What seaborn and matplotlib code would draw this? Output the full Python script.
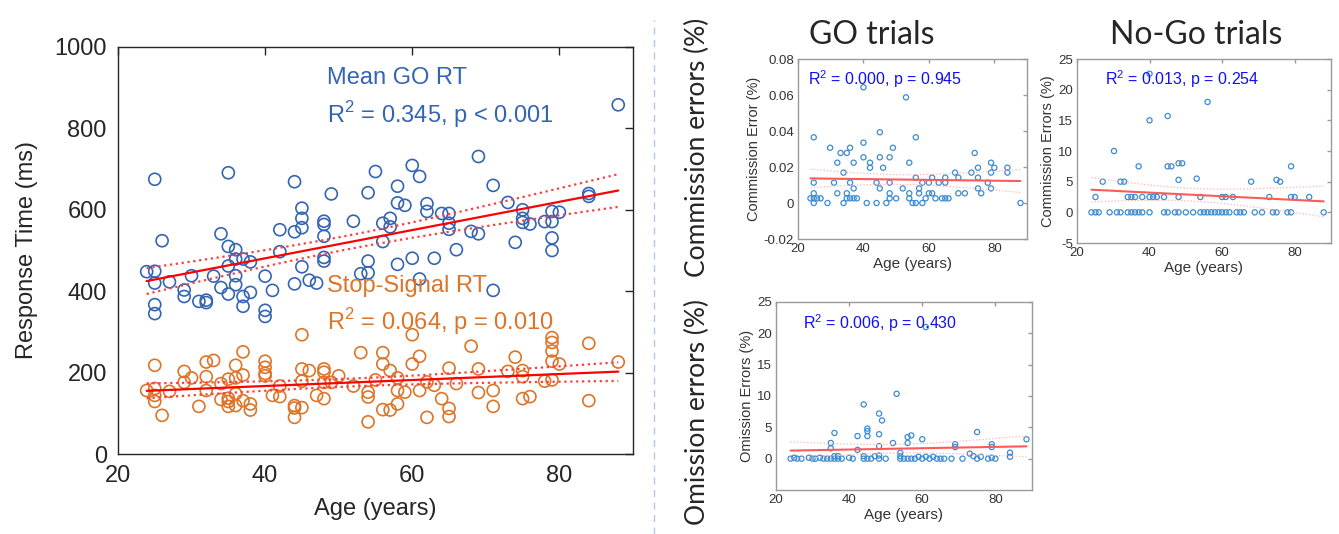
import numpy as np
import pandas as pd
import matplotlib
matplotlib.use("Agg")
import matplotlib.pyplot as plt
import seaborn as sns

# ---- main panel: response time vs age ----
go_age = [23.9, 25, 25, 26, 25, 25, 25, 27, 29, 29, 30, 31, 32, 32, 33, 34, 34, 35, 35, 35,
          35, 36, 36, 36, 36, 37, 37, 37, 38, 38, 40, 40, 40, 41, 42, 42, 44, 44, 44, 45,
          45, 45, 45, 46, 47, 48, 48, 48, 48, 48, 49, 52, 53, 54, 54, 54, 55, 56, 56, 57,
          57, 58, 58, 58, 59, 60, 60, 61, 61, 62, 62, 63, 64, 65, 65, 65, 66, 68, 69, 69,
          71, 71, 73, 74, 75, 75, 75, 76, 78, 79, 79, 79, 79, 80, 84, 84, 88]
go_rt = [448, 449, 675, 524, 420, 367, 345, 423, 403, 387, 438, 375, 378, 372, 437, 541, 409, 691, 510, 462,
         393, 502, 479, 438, 416, 479, 387, 363, 472, 397, 437, 353, 338, 402, 551, 497, 669, 546, 418, 604,
         579, 556, 460, 427, 420, 572, 564, 535, 483, 474, 639, 572, 443, 642, 474, 445, 694, 567, 522, 579,
         558, 658, 617, 466, 611, 709, 481, 682, 430, 615, 596, 481, 591, 591, 567, 552, 502, 547, 731, 541,
         660, 402, 618, 520, 600, 579, 569, 565, 571, 596, 571, 531, 500, 594, 640, 633, 858]

ss_age = [23.9, 25, 25, 25, 25, 26, 27, 29, 29, 30, 31, 32, 32, 32, 33, 34, 34, 35, 35, 35,
          35, 36, 36, 36, 36, 37, 37, 37, 38, 38, 40, 40, 40, 40, 41, 42, 42, 44, 44, 44,
          45, 45, 45, 45, 46, 47, 48, 48, 48, 48, 49, 50, 52, 53, 54, 54, 54, 55, 56, 56,
          56, 57, 57, 58, 58, 58, 59, 60, 60, 61, 61, 62, 62, 63, 64, 65, 65, 65, 66, 68,
          69, 69, 71, 71, 73, 74, 75, 75, 75, 76, 78, 79, 79, 79, 79, 79, 80, 84, 84, 88]
ss_rt = [156, 218, 161, 144, 129, 95, 154, 203, 176, 187, 117, 226, 190, 156, 230, 173, 134, 184, 137, 129,
         117, 218, 187, 148, 119, 251, 194, 131, 123, 108, 228, 213, 198, 192, 144, 167, 141, 119, 113, 90,
         293, 209, 179, 114, 205, 144, 209, 201, 176, 136, 176, 192, 167, 249, 152, 140, 79, 182, 249, 221,
         109, 205, 108, 187, 156, 123, 152, 293, 221, 240, 156, 177, 90, 169, 136, 211, 112, 92, 173, 265,
         209, 151, 156, 117, 203, 238, 205, 190, 136, 141, 179, 286, 274, 253, 228, 182, 221, 272, 131, 226]

# ---- GO trials: commission error ----
gc_age = [23.8, 24.8, 24.8, 24.8, 24.8, 24.8, 25.8, 26.9, 29, 29.8, 31, 32, 32, 33, 33.9, 33.9, 34.9, 34.9, 34.9, 35.9,
          35.9, 35.9, 37, 37, 37, 38, 40, 40, 40, 41, 42, 42, 44, 44, 45, 45, 45, 46, 47, 48,
          48, 48, 48, 49, 50, 52, 53, 54, 54, 54, 55, 56, 56, 56, 57, 57, 58, 58, 59, 60,
          60, 61, 61, 62, 63, 64, 65, 65, 65, 66, 68, 69, 69, 71, 73, 74, 75, 75, 75, 76,
          78, 79, 79, 79, 80, 84, 84, 88]
gc_err = [0.0026, 0.0054, 0.0113, 0.0365, 0.0, 0.0026, 0.0026, 0.0026, 0.0, 0.0307, 0.0113, 0.0224, 0.0054, 0.0278, 0.0169, 0.0, 0.0278, 0.0054, 0.0026, 0.0307,
          0.0113, 0.0026, 0.0224, 0.0081, 0.0026, 0.0026, 0.0643, 0.0335, 0.0254, 0.0, 0.0224, 0.0196, 0.0113, 0.0, 0.0393, 0.0254, 0.0081, 0.0196, 0.0, 0.0254,
          0.0113, 0.0054, 0.0026, 0.0307, 0.0026, 0.0081, 0.0587, 0.0224, 0.0054, 0.0026, 0.0, 0.0, 0.0365, 0.0141, 0.0081, 0.0054, 0.0113, 0.0, 0.0026, 0.0113,
          0.0054, 0.0141, 0.0054, 0.0026, 0.0113, 0.0026, 0.0141, 0.0113, 0.0026, 0.0026, 0.0169, 0.0141, 0.0054, 0.0054, 0.0169, 0.0278, 0.0196, 0.0141, 0.0081, 0.0054,
          0.0113, 0.0224, 0.0169, 0.0081, 0.0196, 0.0196, 0.0169, 0.0]

# ---- No-Go trials: commission errors ----
nc_age = [24, 25.1, 25.1, 26, 27.1, 29, 30.2, 31, 32, 32, 33, 34, 34, 35, 35, 36, 36, 37, 37, 38,
          38, 40, 40, 40, 40, 41, 42, 44, 44, 45, 45, 45, 46, 47, 48, 48, 48, 48, 49, 50,
          52, 53, 54, 54, 55, 56, 56, 57, 58, 59, 60, 60, 61, 61, 62, 63, 64, 65, 66, 68,
          69, 71, 73, 74, 75, 75, 76, 78, 79, 79, 79, 80, 84, 88]
nc_err = [0, 2.5, 0, 0, 5, 0, 10, 0, 5, 0, 5, 2.5, 0, 2.5, 0, 2.5, 0, 7.5, 0, 2.5,
          0, 15, 22.6, 2.5, 0, 2.5, 2.5, 2.5, 0, 15.7, 7.5, 0, 7.5, 0, 8, 5.3, 2.5, 0, 8, 0,
          0, 5.5, 2.5, 0, 0, 18, 0, 0, 0, 0, 2.5, 0, 2.5, 0, 0, 2.5, 0, 0, 0, 5,
          0, 0, 2.5, 0, 5.3, 0, 5, 0, 7.5, 2.5, 0, 2.5, 2.5, 0]

# ---- omission errors ----
om_age = [24, 25, 25.8, 27, 29, 30, 30.8, 32, 33, 34, 35, 35, 35, 36, 36, 36, 37, 37, 38, 40,
          41, 42.3, 42.3, 44, 44, 44, 45, 45, 45, 45, 46, 47, 48.2, 48.2, 48.2, 48.2, 48.2, 49, 50, 52,
          53, 54, 54, 54, 55, 56, 56, 56, 57, 57, 58, 59, 60, 60, 61, 61, 62, 63, 64, 65,
          66, 68, 69, 69, 71, 73, 74, 75, 75, 76, 78, 79, 79, 79, 80, 84, 84, 88.5]
om_err = [0, 0.15, 0, 0, 0.15, 0, 0, 0.15, 0, 0, 2.5, 1.65, 0, 4.1, 0.4, 0, 0.4, 0, 0, 0.15,
          0, 3.6, 1.4, 8.65, 0.4, 0, 4.8, 4.4, 3.6, 0, 0, 0.4, 7.2, 3.9, 2.0, 0.5, 0, 6.1, 0, 2.5,
          10.35, 0.95, 0.4, 0, 0, 3.45, 2.5, 0, 3.7, 0, 0, 0.3, 3.1, 0, 21, 0.3, 0, 0.3, 0, 0,
          0, 0, 2.3, 1.85, 0, 0.8, 0.4, 4.25, 0, 0.3, 0, 2.3, 1.85, 0.15, 0, 0.95, 0.3, 3.1]

blue = "#3465B4"
orange = "#DE7428"
sub_blue = "#3D8CD2"

sns.set_style("white")
plt.rcParams['font.family'] = ['Liberation Sans', 'DejaVu Sans']
plt.rcParams['mathtext.fontset'] = 'custom'
plt.rcParams['mathtext.rm'] = 'Liberation Sans'
plt.rcParams['axes.unicode_minus'] = False


def fit_lines(x, y, n_grid=100):
    x = np.asarray(x, float)
    y = np.asarray(y, float)
    b, a = np.polyfit(x, y, 1)
    xs = np.linspace(x.min(), x.max(), n_grid)
    yhat = a + b * xs
    resid = y - (a + b * x)
    s = np.sqrt(np.sum(resid ** 2) / (len(x) - 2))
    sxx = np.sum((x - x.mean()) ** 2)
    half = 1.98 * s * np.sqrt(1 / len(x) + (xs - x.mean()) ** 2 / sxx)
    return pd.DataFrame({'x': xs, 'fit': yhat, 'lo': yhat - half, 'hi': yhat + half})


def box_axes(ax, spine_color, tick_len):
    for sp in ax.spines.values():
        sp.set_visible(True)
        sp.set_color(spine_color)
        sp.set_linewidth(1.0)
    ax.tick_params(direction='in', top=True, right=True, length=tick_len,
                   width=1.0, color=spine_color)


fig = plt.figure(figsize=(13.39, 5.34), dpi=100)

# main panel
ax = fig.add_axes([0.0881, 0.1498, 0.3846, 0.7622])
go = pd.DataFrame({'age': go_age, 'rt': go_rt})
ss = pd.DataFrame({'age': ss_age, 'rt': ss_rt})
sns.scatterplot(data=go, x='age', y='rt', ax=ax, s=75, facecolor='none',
                edgecolor=blue, linewidth=1.2, zorder=3)
sns.scatterplot(data=ss, x='age', y='rt', ax=ax, s=75, facecolor='none',
                edgecolor=orange, linewidth=1.2, zorder=3)
for df in (go, ss):
    f = fit_lines(df['age'], df['rt'])
    sns.lineplot(data=f, x='x', y='fit', ax=ax, color='red', lw=1.6, zorder=4)
    sns.lineplot(data=f, x='x', y='lo', ax=ax, color='#FF3B3B', lw=1.6, ls=':', zorder=4)
    sns.lineplot(data=f, x='x', y='hi', ax=ax, color='#FF3B3B', lw=1.6, ls=':', zorder=4)
ax.set_xlim(20, 90)
ax.set_ylim(0, 1000)
ax.set_xticks([20, 40, 60, 80])
ax.set_yticks([0, 200, 400, 600, 800, 1000])
box_axes(ax, '#262626', 6)
ax.tick_params(labelsize=17, pad=8)
ax.set_xlabel('Age (years)', fontsize=17, labelpad=8)
ax.set_ylabel('Response Time (ms)', fontsize=17, labelpad=12)
ax.text(0.405, 0.925, 'Mean GO RT', transform=ax.transAxes, color=blue,
        fontsize=17, va='center')
ax.text(0.405, 0.835, r'R$^2$ = 0.345, p < 0.001', transform=ax.transAxes,
        color=blue, fontsize=17, va='center')
ax.text(0.405, 0.413, 'Stop-Signal RT', transform=ax.transAxes, color=orange,
        fontsize=17, va='center')
ax.text(0.405, 0.325, r'R$^2$ = 0.064, p = 0.010', transform=ax.transAxes,
        color=orange, fontsize=17, va='center')


def small_panel(rect, x, y, ylim, yticks, ylabel, stat, stat_x, ticklabels=None):
    a = fig.add_axes(rect)
    df = pd.DataFrame({'age': x, 'err': y})
    sns.scatterplot(data=df, x='age', y='err', ax=a, s=14, facecolor='none',
                    edgecolor=sub_blue, linewidth=0.9, zorder=3)
    f = fit_lines(x, y)
    sns.lineplot(data=f, x='x', y='fit', ax=a, color='#FF5A5A', lw=1.5, zorder=4)
    sns.lineplot(data=f, x='x', y='lo', ax=a, color='#FFB3B3', lw=0.9, ls=':', zorder=4)
    sns.lineplot(data=f, x='x', y='hi', ax=a, color='#FFB3B3', lw=0.9, ls=':', zorder=4)
    a.set_xlim(20, 90)
    a.set_ylim(*ylim)
    a.set_xticks([20, 40, 60, 80])
    a.set_yticks(yticks)
    if ticklabels is not None:
        a.set_yticklabels(ticklabels)
    box_axes(a, '#9A9A9A', 3)
    a.tick_params(labelsize=9.5, labelcolor='#333333', pad=3)
    a.set_xlabel('Age (years)', fontsize=11, color='#333333', labelpad=1)
    a.set_ylabel(ylabel, fontsize=10.5, color='#333333', labelpad=2)
    a.text(stat_x, 0.89, stat, transform=a.transAxes, color='#1010F0',
           fontsize=11.5, va='center')
    return a


small_panel([0.5960, 0.5524, 0.1710, 0.3371], gc_age, gc_err, (-0.02, 0.08),
            [-0.02, 0, 0.02, 0.04, 0.06, 0.08], 'Commission Error (%)',
            r'R$^2$ = 0.000, p = 0.945', 0.045,
            ['-0.02', '0', '0.02', '0.04', '0.06', '0.08'])
small_panel([0.8043, 0.5449, 0.1897, 0.3446], nc_age, nc_err, (-5, 25),
            [-5, 0, 5, 10, 15, 20, 25], 'Commission Errors (%)',
            r'R$^2$ = 0.013, p = 0.254', 0.11)
small_panel([0.5795, 0.0824, 0.1912, 0.3521], om_age, om_err, (-5, 25),
            [0, 5, 10, 15, 20, 25], 'Omission Errors (%)',
            r'R$^2$ = 0.006, p = 0.430', 0.105)

# titles and row labels
fig.text(872 / 1339, 1 - 35 / 534, 'GO trials', fontsize=23, family=['Lato', 'DejaVu Sans'],
         ha='center', va='center')
fig.text(1196 / 1339, 1 - 35 / 534, 'No-Go trials', fontsize=23, family=['Lato', 'DejaVu Sans'],
         ha='center', va='center')
fig.text(697 / 1339, 1 - 147 / 534, 'Commission errors (%)', fontsize=19,
         family=['Lato', 'DejaVu Sans'], rotation=90, ha='center', va='center')
fig.text(697 / 1339, 1 - 412 / 534, 'Omission errors (%)', fontsize=19,
         family=['Lato', 'DejaVu Sans'], rotation=90, ha='center', va='center')

# dashed separator
fig.add_artist(plt.Line2D([654 / 1339, 654 / 1339], [0, 1 - 20 / 534],
                          transform=fig.transFigure, color='#B4C8E6', lw=1.0,
                          ls=(0, (5, 4))))

fig.savefig('out.png', dpi=100)
